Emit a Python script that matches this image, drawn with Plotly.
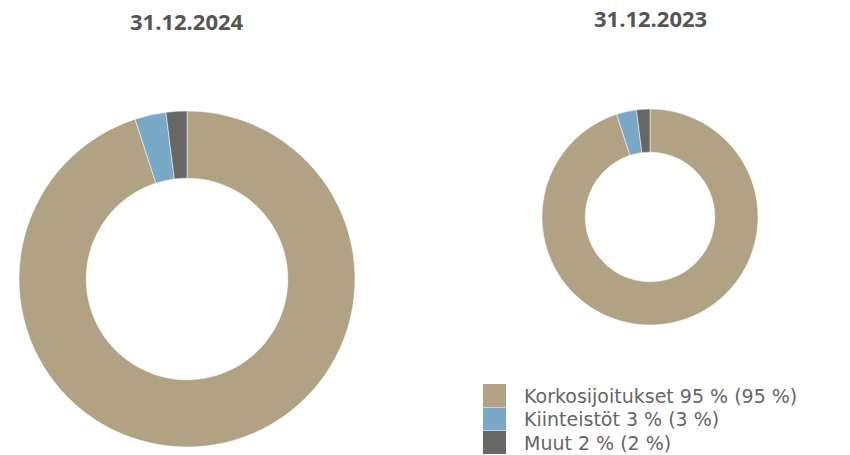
import plotly.graph_objects as go

# Allokaatio 31.12.2024 ja 31.12.2023
labels = ["Korkosijoitukset", "Kiinteistöt", "Muut"]
values_2024 = [95, 3, 2]
values_2023 = [95, 3, 2]
legend_texts = ["Korkosijoitukset 95 % (95 %)", "Kiinteistöt 3 % (3 %)", "Muut 2 % (2 %)"]
titles = ["31.12.2024", "31.12.2023"]
colors = ["#B0A282", "#7AA9C8", "#676767"]

W, H = 850, 455

def px_x(x):
    return x / W

def px_y(y):
    return 1 - y / H

fig = go.Figure()

# vasen (iso) donitsi
fig.add_trace(go.Pie(
    labels=labels, values=values_2024, hole=0.6, sort=False, direction="clockwise",
    rotation=0, marker=dict(colors=colors, line=dict(color="white", width=0.5)),
    textinfo="none", hoverinfo="label+percent", showlegend=False,
    domain=dict(x=[px_x(187 - 168), px_x(187 + 168)], y=[px_y(279 + 168), px_y(279 - 168)]),
))

# oikea (pieni) donitsi
fig.add_trace(go.Pie(
    labels=labels, values=values_2023, hole=0.6, sort=False, direction="clockwise",
    rotation=0, marker=dict(colors=colors, line=dict(color="white", width=0.5)),
    textinfo="none", hoverinfo="label+percent", showlegend=False,
    domain=dict(x=[px_x(650 - 108), px_x(650 + 108)], y=[px_y(217 + 108), px_y(217 - 108)]),
))

# otsikot
for t, cx, cy in zip(titles, [187, 650], [21, 18]):
    fig.add_annotation(text=f"<b>{t}</b>", x=px_x(cx), y=px_y(cy), xref="paper", yref="paper",
                       showarrow=False, xanchor="center", yanchor="middle",
                       font=dict(family="Open Sans, sans-serif", size=22, color="#555555"))

# selite (oma piirto, isot neliöt)
for i, (txt, col) in enumerate(zip(legend_texts, colors)):
    top = 384 + i * 23.5
    fig.add_shape(type="rect", xref="paper", yref="paper",
                  x0=px_x(483), x1=px_x(506), y0=px_y(top + 23), y1=px_y(top),
                  fillcolor=col, line=dict(width=0))
    fig.add_annotation(text=txt, x=px_x(522), y=px_y(top + 11.5), xref="paper", yref="paper",
                       showarrow=False, xanchor="left", yanchor="middle",
                       font=dict(family="DejaVu Sans, sans-serif", size=19, color="#666666"))

fig.update_layout(
    width=W, height=H,
    margin=dict(l=0, r=0, t=0, b=0),
    paper_bgcolor="white", plot_bgcolor="white",
)

# poistetaan sivun oletusmarginaali, jotta kuva alkaa vasemmasta yläkulmasta
fig.write_html("out.html", config={"displayModeBar": False},
               post_script="document.body.style.margin='0';")
